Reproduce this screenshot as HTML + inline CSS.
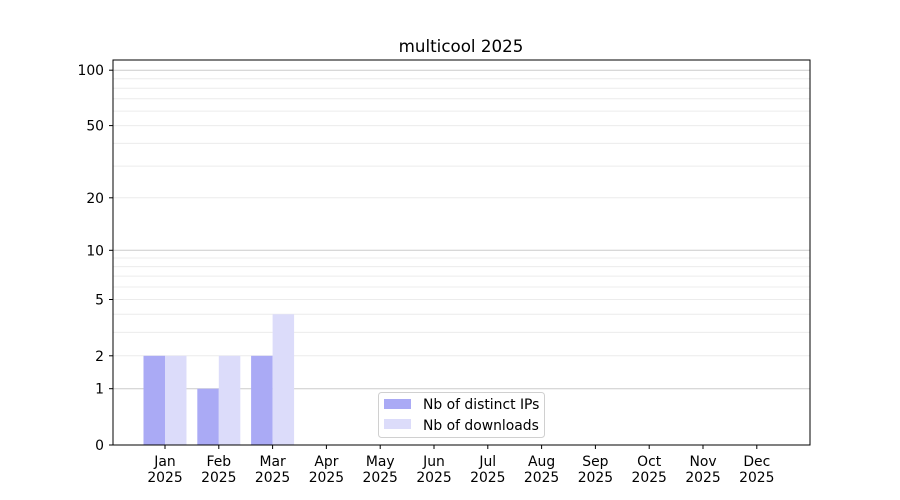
<!DOCTYPE html>
<html><head><meta charset="utf-8"><style>body{margin:0;background:#fff}svg{display:block;font-family:"DejaVu Sans","Liberation Sans",sans-serif}</style></head>
<body>
<svg width="900" height="500" viewBox="0 0 900 500">
<rect width="900" height="500" fill="#fff"/>
<g stroke="#ececec" stroke-width="1">
<line x1="113" x2="810" y1="332.4" y2="332.4"/><line x1="113" x2="810" y1="314.3" y2="314.3"/>
<line x1="113" x2="810" y1="287" y2="287"/><line x1="113" x2="810" y1="276.1" y2="276.1"/>
<line x1="113" x2="810" y1="266.6" y2="266.6"/><line x1="113" x2="810" y1="258" y2="258"/>
<line x1="113" x2="810" y1="197.8" y2="197.8"/><line x1="113" x2="810" y1="166.1" y2="166.1"/>
<line x1="113" x2="810" y1="143.4" y2="143.4"/><line x1="113" x2="810" y1="125.6" y2="125.6"/>
<line x1="113" x2="810" y1="111.1" y2="111.1"/><line x1="113" x2="810" y1="98.8" y2="98.8"/>
<line x1="113" x2="810" y1="88.2" y2="88.2"/><line x1="113" x2="810" y1="78.7" y2="78.7"/>
<line x1="113" x2="810" y1="355.8" y2="355.8"/><line x1="113" x2="810" y1="299.5" y2="299.5"/>
</g>
<g stroke="#cccccc" stroke-width="1">
<line x1="113" x2="810" y1="388.7" y2="388.7"/><line x1="113" x2="810" y1="250.3" y2="250.3"/><line x1="113" x2="810" y1="70.2" y2="70.2"/>
</g>
<g fill="#aaaaf5">
<rect x="143.5" y="355.8" width="21.5" height="89.2"/>
<rect x="197.3" y="388.7" width="21.5" height="56.3"/>
<rect x="251.1" y="355.8" width="21.5" height="89.2"/>
</g>
<g fill="#dcdcfa">
<rect x="165" y="355.8" width="21.5" height="89.2"/>
<rect x="218.8" y="355.8" width="21.5" height="89.2"/>
<rect x="272.6" y="314.3" width="21.5" height="130.7"/>
</g>
<rect x="113" y="60" width="697" height="385" fill="none" stroke="#000" stroke-width="1"/>
<g stroke="#000" stroke-width="1">
<line x1="109" x2="113" y1="445" y2="445"/><line x1="109" x2="113" y1="388.7" y2="388.7"/>
<line x1="109" x2="113" y1="355.8" y2="355.8"/><line x1="109" x2="113" y1="299.5" y2="299.5"/>
<line x1="109" x2="113" y1="250.3" y2="250.3"/><line x1="109" x2="113" y1="197.8" y2="197.8"/>
<line x1="109" x2="113" y1="125.6" y2="125.6"/><line x1="109" x2="113" y1="70.2" y2="70.2"/>
</g>
<g font-size="13.9" text-anchor="end" fill="#000">
<text x="104" y="450">0</text><text x="104" y="393.7">1</text><text x="104" y="360.8">2</text>
<text x="104" y="304.5">5</text><text x="104" y="255.3">10</text><text x="104" y="202.8">20</text>
<text x="104" y="130.6">50</text><text x="104" y="75.2">100</text>
</g>
<g stroke="#000"><line x1="165" x2="165" y1="445" y2="449"/><line x1="218.8" x2="218.8" y1="445" y2="449"/><line x1="272.6" x2="272.6" y1="445" y2="449"/><line x1="326.4" x2="326.4" y1="445" y2="449"/><line x1="380.2" x2="380.2" y1="445" y2="449"/><line x1="434" x2="434" y1="445" y2="449"/><line x1="487.8" x2="487.8" y1="445" y2="449"/><line x1="541.6" x2="541.6" y1="445" y2="449"/><line x1="595.4" x2="595.4" y1="445" y2="449"/><line x1="649.2" x2="649.2" y1="445" y2="449"/><line x1="703" x2="703" y1="445" y2="449"/><line x1="756.8" x2="756.8" y1="445" y2="449"/></g>
<g font-size="13.9" text-anchor="middle" fill="#000">
<text x="165" y="466">Jan</text><text x="165" y="482">2025</text>
<text x="218.8" y="466">Feb</text><text x="218.8" y="482">2025</text>
<text x="272.6" y="466">Mar</text><text x="272.6" y="482">2025</text>
<text x="326.4" y="466">Apr</text><text x="326.4" y="482">2025</text>
<text x="380.2" y="466">May</text><text x="380.2" y="482">2025</text>
<text x="434" y="466">Jun</text><text x="434" y="482">2025</text>
<text x="487.8" y="466">Jul</text><text x="487.8" y="482">2025</text>
<text x="541.6" y="466">Aug</text><text x="541.6" y="482">2025</text>
<text x="595.4" y="466">Sep</text><text x="595.4" y="482">2025</text>
<text x="649.2" y="466">Oct</text><text x="649.2" y="482">2025</text>
<text x="703" y="466">Nov</text><text x="703" y="482">2025</text>
<text x="756.8" y="466">Dec</text><text x="756.8" y="482">2025</text>
</g>
<text x="461" y="52" font-size="16.7" text-anchor="middle">multicool 2025</text>
<rect x="378.5" y="392.5" width="166" height="45" rx="3" fill="#fff" fill-opacity="0.8" stroke="#d0d0d0"/>
<rect x="384" y="399" width="27" height="10" fill="#aaaaf5"/>
<rect x="384" y="419" width="27" height="10" fill="#dcdcfa"/>
<g font-size="13.9" fill="#000"><text x="423" y="409">Nb of distinct IPs</text><text x="423" y="430">Nb of downloads</text></g>
</svg>
</body></html>
